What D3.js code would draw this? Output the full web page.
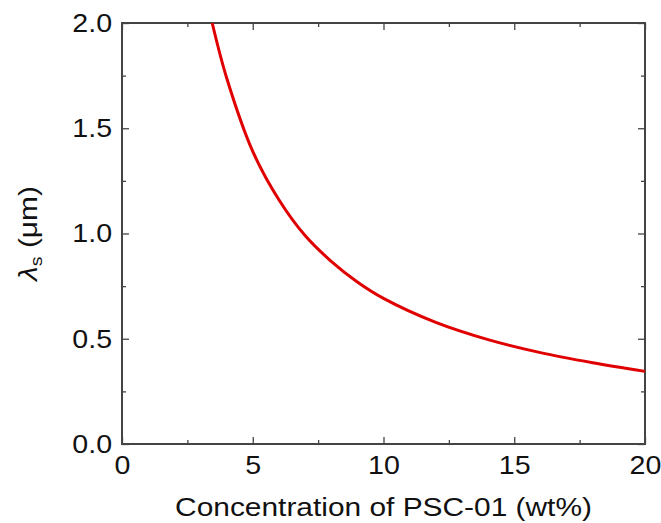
<!DOCTYPE html>
<html>
<head>
<meta charset="utf-8">
<script src="https://cdn.jsdelivr.net/npm/d3@7"></script>
<style>
  body { margin: 0; background: #fff; }
  text { font-family: "Liberation Sans", Arial, sans-serif; fill: #111; }
</style>
</head>
<body>
<svg id="chart" width="661" height="523"></svg>
<script>
// values
const conc = [3.45, 4, 5, 6, 7, 8, 9, 10, 12, 14, 16, 18, 20];
const lambdaS = [2.0, 1.74, 1.39, 1.16, 0.99, 0.868, 0.77, 0.692, 0.578, 0.496, 0.434, 0.386, 0.345];
const xTicks = [0, 5, 10, 15, 20];
const yTicks = [0.0, 0.5, 1.0, 1.5, 2.0];

const svg = d3.select("#chart");
const margins = {top: 23, right: 16, bottom: 79, left: 122};
const chartWidth = svg.attr("width") - margins.left - margins.right;
const chartHeight = svg.attr("height") - margins.top - margins.bottom;

const scaleX = d3.scaleLinear().domain([0, 20]).range([0, chartWidth]);
const scaleY = d3.scaleLinear().domain([0, 2]).range([chartHeight, 0]);

const chart = svg.append("g")
    .attr("transform", `translate(${margins.left},${margins.top})`);

const frameColor = "#444";
const minorX = d3.range(0, 20.01, 2.5).filter(v => v % 5 !== 0);
const minorY = d3.range(0, 2.01, 0.25).filter(v => Math.abs(v * 2 - Math.round(v * 2)) > 1e-6);

function styleAxis(g) {
    g.select(".domain").remove();
    g.selectAll(".tick line").attr("stroke", frameColor).attr("stroke-width", 1.3);
    g.selectAll(".tick text").style("font-size", "26px").attr("fill", "#111")
        .attr("transform", "scale(1.1,1)");
}

// bottom axis (ticks inward)
chart.append("g")
    .attr("transform", `translate(0,${chartHeight})`)
    .call(d3.axisBottom(scaleX).tickValues(xTicks).tickSize(-7).tickPadding(12).tickFormat(d3.format("d")))
    .call(styleAxis);
chart.append("g")
    .attr("transform", `translate(0,${chartHeight})`)
    .call(d3.axisBottom(scaleX).tickValues(minorX).tickSize(-4).tickFormat(""))
    .call(styleAxis);
// top axis
chart.append("g")
    .call(d3.axisTop(scaleX).tickValues(xTicks).tickSize(-7).tickFormat(""))
    .call(styleAxis);
chart.append("g")
    .call(d3.axisTop(scaleX).tickValues(minorX).tickSize(-4).tickFormat(""))
    .call(styleAxis);
// left axis
chart.append("g")
    .call(d3.axisLeft(scaleY).tickValues(yTicks).tickSize(-7).tickPadding(9).tickFormat(d3.format(".1f")))
    .call(styleAxis);
chart.append("g")
    .call(d3.axisLeft(scaleY).tickValues(minorY).tickSize(-4).tickFormat(""))
    .call(styleAxis);
// right axis
chart.append("g")
    .attr("transform", `translate(${chartWidth},0)`)
    .call(d3.axisRight(scaleY).tickValues(yTicks).tickSize(-7).tickFormat(""))
    .call(styleAxis);
chart.append("g")
    .attr("transform", `translate(${chartWidth},0)`)
    .call(d3.axisRight(scaleY).tickValues(minorY).tickSize(-4).tickFormat(""))
    .call(styleAxis);

// frame
chart.append("rect")
    .attr("width", chartWidth).attr("height", chartHeight)
    .attr("fill", "none").attr("stroke", frameColor).attr("stroke-width", 2);

// curve
const line = d3.line()
    .x((d, i) => scaleX(conc[i]))
    .y(d => scaleY(d))
    .curve(d3.curveCatmullRom.alpha(0.5));
chart.append("path")
    .datum(lambdaS)
    .attr("d", line)
    .attr("fill", "none")
    .attr("stroke", "#e00000")
    .attr("stroke-width", 3);

// axis titles
svg.append("text")
    .attr("transform", `translate(${margins.left + chartWidth / 2},516) scale(1.15,1)`)
    .attr("text-anchor", "middle")
    .style("font-size", "26px")
    .text("Concentration of PSC-01 (wt%)");

const yTitle = svg.append("text")
    .attr("transform", `translate(37,${margins.top + chartHeight / 2}) rotate(-90) scale(1.15,1)`)
    .attr("text-anchor", "middle")
    .style("font-size", "26px");
yTitle.append("tspan").style("font-style", "italic").text("λ");
yTitle.append("tspan").attr("dy", 5).style("font-size", "17px").text("s");
yTitle.append("tspan").attr("dy", -5).text(" (μm)");
</script>
</body>
</html>
